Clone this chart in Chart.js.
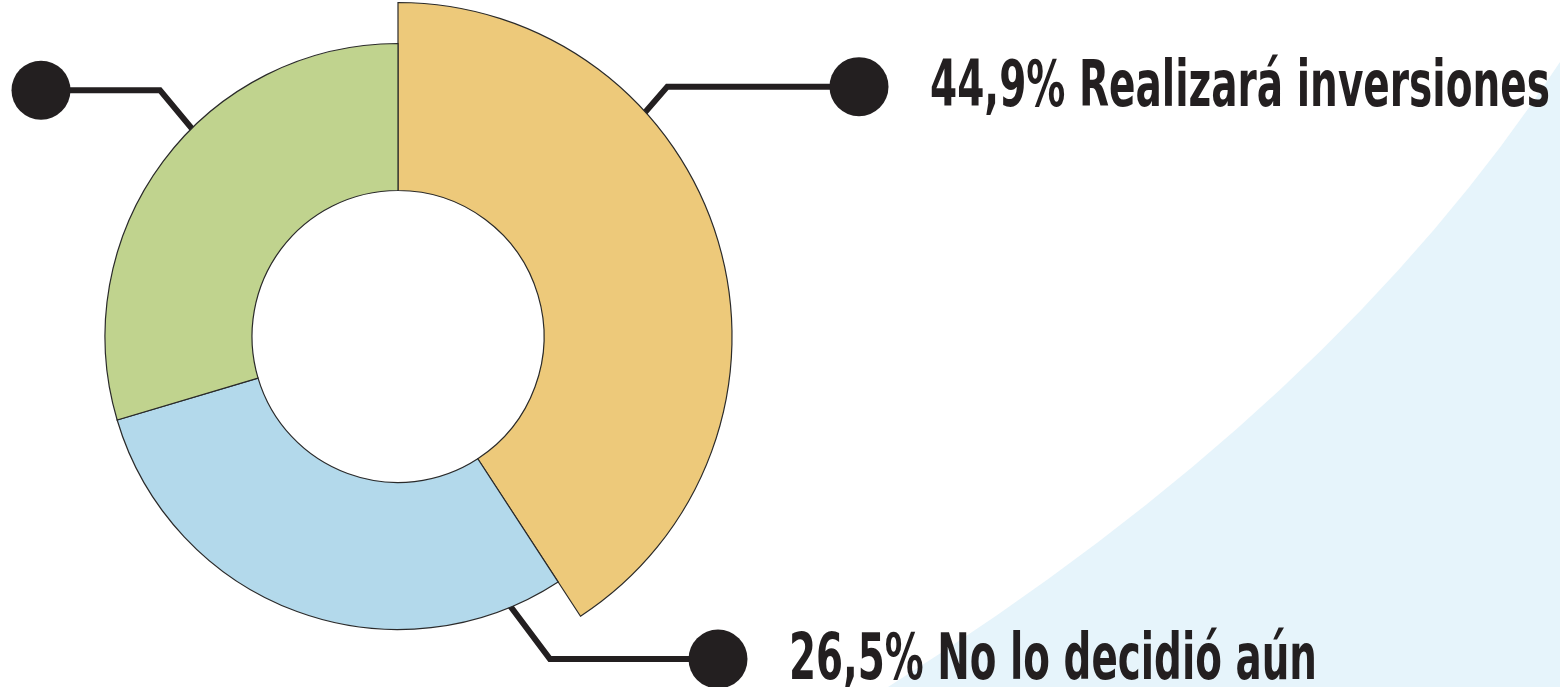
<!DOCTYPE html>
<html lang="es">
<head>
<meta charset="utf-8">
<title>Inversiones</title>
<script src="https://cdn.jsdelivr.net/npm/chart.js@4.4.1/dist/chart.umd.min.js"></script>
<style>
  html, body { margin: 0; padding: 0; background: #ffffff; }
  canvas { display: block; }
</style>
</head>
<body>
<canvas id="graficoDona" width="1560" height="687"></canvas>
<script>
// Datos del gráfico (porcentaje de arco)
const categorias = ['Realizará inversiones', 'No lo decidió aún', 'Sin dato'];
const valores = [40.8, 29.6, 29.6];
const etiquetasPct = ['44,9%', '26,5%', ''];
const colores = ['#EDC97A', '#B3D9EB', '#C0D38E'];

// Estilo de las líneas guía: fracción del arco, codo, punto final
const guias = [
    { fraccion: 0.327, codoX: 21, codoY: -26.5, puntoX: 859, texto: true },
    { fraccion: 0.104, codoX: 42, codoY: 51, puntoX: 718, texto: true },
    { fraccion: 0.578, codoX: -31, codoY: -39, puntoX: 41, texto: false }
];

const colorOscuro = '#231F20';
const fuente = 'bold 64px "Liberation Sans Narrow", "DejaVu Sans Condensed", "DejaVu Sans", sans-serif';
const anchosTexto = [620, 528]; // ancho del texto condensado

// Fondo blanco y la curva celeste de la esquina
const fondoPlugin = {
    id: 'fondo',
    beforeDraw(chart) {
        const ctx = chart.ctx;
        ctx.save();
        ctx.fillStyle = '#ffffff';
        ctx.fillRect(0, 0, chart.width, chart.height);
        ctx.fillStyle = '#E6F4FB';
        ctx.beginPath();
        ctx.moveTo(chart.width, 62);
        ctx.quadraticCurveTo(1336, 405, 888, chart.height);
        ctx.lineTo(chart.width, chart.height);
        ctx.closePath();
        ctx.fill();
        ctx.restore();
    }
};

// El primer segmento sobresale del resto
const segmentoMayor = {
    id: 'segmentoMayor',
    beforeDatasetsDraw(chart) {
        const meta = chart.getDatasetMeta(0);
        meta.data[0].outerRadius = meta.controller.outerRadius * 1.14;
    }
};

function puntoEnArco(arco, fraccion, r) {
    const ang = arco.startAngle + (arco.endAngle - arco.startAngle) * fraccion;
    return { x: arco.x + Math.cos(ang) * r, y: arco.y + Math.sin(ang) * r };
}

// Líneas guía con punto y texto
const guiasPlugin = {
    id: 'guias',
    beforeDatasetsDraw(chart) {
        const ctx = chart.ctx;
        const meta = chart.getDatasetMeta(0);
        ctx.save();
        ctx.strokeStyle = colorOscuro;
        ctx.lineWidth = 6;
        ctx.lineJoin = 'miter';
        meta.data.forEach((arco, i) => {
            const g = guias[i];
            const borde = puntoEnArco(arco, g.fraccion, arco.outerRadius);
            const dentro = puntoEnArco(arco, g.fraccion, arco.outerRadius - 12);
            const codo = { x: borde.x + g.codoX, y: borde.y + g.codoY };
            ctx.beginPath();
            ctx.moveTo(dentro.x, dentro.y);
            ctx.lineTo(codo.x, codo.y);
            ctx.lineTo(g.puntoX, codo.y);
            ctx.stroke();
        });
        ctx.restore();
    },
    afterDatasetsDraw(chart) {
        const ctx = chart.ctx;
        const meta = chart.getDatasetMeta(0);
        ctx.save();
        ctx.fillStyle = colorOscuro;
        meta.data.forEach((arco, i) => {
            const g = guias[i];
            const borde = puntoEnArco(arco, g.fraccion, arco.outerRadius);
            const y = borde.y + g.codoY;
            ctx.beginPath();
            ctx.arc(g.puntoX, y, 29.5, 0, Math.PI * 2);
            ctx.fill();
            if (g.texto) {
                ctx.font = fuente;
                ctx.textAlign = 'left';
                ctx.textBaseline = 'alphabetic';
                ctx.fillText(etiquetasPct[i] + ' ' + categorias[i], g.puntoX + 71, y + 19.5, anchosTexto[i]);
            }
        });
        ctx.restore();
    }
};

const ctx = document.getElementById('graficoDona');
new Chart(ctx, {
    type: 'doughnut',
    data: {
        labels: categorias,
        datasets: [{
            data: valores,
            backgroundColor: colores,
            borderColor: '#2a2a2a',
            borderWidth: 1.2,
            borderJoinStyle: 'miter'
        }]
    },
    options: {
        responsive: false,
        animation: false,
        events: [],
        radius: 293,
        cutout: '49.83%',
        layout: {
            padding: { left: 0, right: 764, top: 0, bottom: 14 }
        },
        plugins: {
            legend: { display: false },
            tooltip: { enabled: false }
        }
    },
    plugins: [fondoPlugin, segmentoMayor, guiasPlugin]
});
</script>
</body>
</html>
